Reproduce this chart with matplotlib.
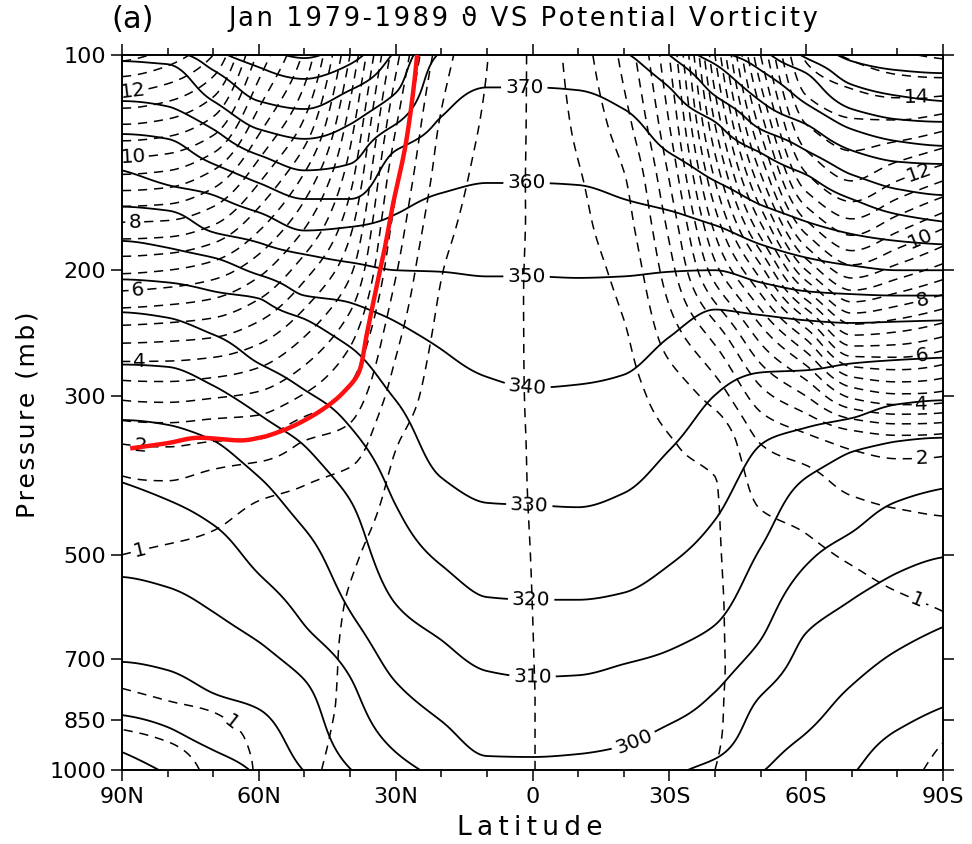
import numpy as np
import matplotlib
matplotlib.use("Agg")
import matplotlib.pyplot as plt

nan = float("nan")

# ---------------- data ----------------
LATS = [90, 80, 70, 60, 50, 40, 30, 20, 10, 0, -10, -20, -30, -40, -50, -60, -70, -80, -90]

# pressure (hPa) of each isentrope (theta, K) at LATS (90N ... 90S)
P_TH240 = [1065, nan, nan, nan, nan, nan, nan, nan, nan, nan, nan, nan, nan, nan, nan, nan, nan, nan, nan]
P_TH250 = [944, 1015, 1090, nan, nan, nan, nan, nan, nan, nan, nan, nan, nan, nan, nan, nan, nan, nan, nan]
P_TH260 = [838, 871, 938, 1030, 1090, nan, nan, nan, nan, nan, nan, nan, nan, nan, nan, nan, nan, 1090, 1060]
P_TH270 = [706, 725, 781, 822, 1005, 1100, nan, nan, nan, nan, nan, nan, nan, nan, 1080, 1040, 1015, 879, 817]
P_TH280 = [537, 555, 601, 662, 748, 995, 1150, nan, nan, nan, nan, nan, nan, 1060, 1010, 888, 761, 680, 631]
P_TH290 = [396, 419, 454, 532, 627, 741, 944, 1040, 1080, 1090, 1090, 1075, 1030, 965, 788, 643, 578, 530, 504]
P_TH300 = [324, 329, 346, 389, 460, 600, 753, 854, 956, 959, 950, 925, 863, 778, 658, 517, 465, 421, 404]
P_TH310 = [271, 273, 290, 318, 352, 419, 586, 658, 727, 741, 737, 711, 680, 627, 489, 390, 359, 347, 343]
P_TH320 = [229, 233, 246, 270, 294, 331, 426, 517, 573, 578, 578, 565, 517, 447, 351, 332, 322, 308, 304]
P_TH330 = [206, 208, 214, 219, 234, 256, 304, 390, 423, 426, 429, 410, 357, 299, 278, 276, 270, 267, 265]
P_TH340 = [182, 186, 192, 203, 217, 222, 236, 258, 282, 292, 289, 280, 248, 227, 231, 235, 237, 236, 235]
P_TH350 = [163, 165, 177, 183, 190, 195, 200, 201, 204, 204, 205, 204, 201, 200, 208, 214, 216, 217, 217]
P_TH360 = [145, 152, 157, 166, 176, 174, 167, 156, 151, 151, 152, 159, 165, 173, 184, 192, 197, 200, 200]
P_TH370 = [129, 131, 142, 151, 159, 159, 136, 122, 111, 111, 112, 119, 137, 150, 162, 171, 178, 182, 184]
P_TH380 = [116, 118, 127, 138, 145, 142, 125, 99, 95, 94, 95, 99, 111, 124, 137, 147, 159, 167, 171]
P_TH390 = [102, 103, 116, 127, 131, 125, 113, 92, 88, 88, 88, 92, 100, 114, 127, 136, 147, 154, 157]
P_TH400 = [93, 98, 105, 116, 119, 112, 98.5, 88, nan, nan, nan, nan, 92, 103, 116, 125, 136, 141, 142]
P_TH410 = [nan, 92, 98, 104, 108, 103, 93, nan, nan, nan, nan, nan, nan, 98, 105, 117, 127, 132, 134]
P_TH420 = [nan, nan, nan, 98, 101, 95, nan, nan, nan, nan, nan, nan, nan, 92, 98, 106, 119, 123, 124]
P_TH430 = [nan, nan, nan, nan, 94, nan, nan, nan, nan, nan, nan, nan, nan, nan, 92, 101, 110, 114, 116]
P_TH440 = [nan, nan, nan, nan, nan, nan, nan, nan, nan, nan, nan, nan, nan, nan, nan, 94, 102, 105, 106]
P_TH450 = [nan, nan, nan, nan, nan, nan, nan, nan, nan, nan, nan, nan, nan, nan, nan, nan, 94, 97, 98]

THETA_VALUES = [240, 250, 260, 270, 280, 290, 300, 310, 320, 330, 340, 350, 360, 370, 380, 390, 400, 410, 420, 430, 440, 450]
THETA_TABLE = [P_TH240, P_TH250, P_TH260, P_TH270, P_TH280, P_TH290, P_TH300, P_TH310, P_TH320, P_TH330, P_TH340,
               P_TH350, P_TH360, P_TH370, P_TH380, P_TH390, P_TH400, P_TH410, P_TH420, P_TH430, P_TH440, P_TH450]

# potential vorticity (PVU, signed) at these pressure levels, one list per latitude
PV_P = [1000, 900, 800, 700, 600, 500, 400, 350, 300, 250, 200, 175, 150, 125, 100]
PV_90N = [1.9, 1.6, 1.1, 0.85, 0.8, 1.0, 1.4, 2.0, 3.1, 4.6, 6.6, 7.8, 9.3, 11.0, 13.2]
PV_80N = [1.8, 1.45, 1.0, 0.8, 0.78, 0.95, 1.45, 2.05, 3.15, 4.55, 6.5, 7.75, 9.2, 10.85, 12.8]
PV_70N = [1.35, 1.2, 0.92, 0.75, 0.75, 0.9, 1.3, 1.95, 3.05, 4.45, 6.25, 7.4, 8.7, 10.3, 12.0]
PV_60N = [0.95, 0.9, 0.75, 0.7, 0.7, 0.8, 1.1, 1.9, 2.9, 4.1, 5.65, 6.55, 7.55, 8.7, 9.9]
PV_50N = [0.56, 0.58, 0.6, 0.62, 0.65, 0.75, 1.0, 1.45, 2.45, 3.45, 4.7, 5.5, 6.35, 7.4, 8.4]
PV_40N = [0.42, 0.44, 0.45, 0.45, 0.47, 0.55, 0.85, 1.25, 1.85, 2.6, 3.6, 4.1, 4.65, 5.25, 6.0]
PV_30N = [0.22, 0.25, 0.25, 0.25, 0.28, 0.33, 0.42, 0.52, 0.8, 1.1, 1.55, 1.8, 2.1, 2.55, 3.2]
PV_20N = [0.16, 0.16, 0.16, 0.17, 0.18, 0.2, 0.24, 0.27, 0.32, 0.4, 0.52, 0.65, 0.8, 0.95, 1.25]
PV_10N = [0.08, 0.08, 0.08, 0.09, 0.1, 0.1, 0.11, 0.12, 0.14, 0.17, 0.22, 0.27, 0.33, 0.42, 0.52]
PV_EQ = [0.005, 0.005, 0.005, 0.003, 0.0, -0.005, -0.015, -0.02, -0.03, -0.04, -0.05, -0.05, -0.06, -0.07, -0.08]
PV_10S = [-0.1, -0.1, -0.1, -0.1, -0.1, -0.12, -0.15, -0.17, -0.2, -0.25, -0.32, -0.38, -0.45, -0.6, -0.75]
PV_20S = [-0.2, -0.2, -0.2, -0.2, -0.22, -0.25, -0.27, -0.3, -0.35, -0.45, -0.65, -0.8, -0.95, -1.3, -1.65]
PV_30S = [-0.32, -0.32, -0.32, -0.33, -0.35, -0.38, -0.45, -0.48, -0.7, -1.2, -1.8, -2.1, -2.5, -3.0, -3.5]
PV_40S = [-0.5, -0.48, -0.47, -0.46, -0.46, -0.47, -0.49, -0.6, -1.2, -2.1, -3.8, -4.6, -5.5, -6.5, -7.5]
PV_50S = [-0.6, -0.6, -0.62, -0.65, -0.7, -0.8, -1.15, -1.5, -2.3, -3.6, -5.8, -7.3, -8.8, -10.2, -11.5]
PV_60S = [-0.7, -0.7, -0.72, -0.75, -0.8, -0.92, -1.3, -1.8, -3.0, -5.0, -8.5, -10.2, -11.8, -13.0, -14.1]
PV_70S = [-0.8, -0.78, -0.78, -0.8, -0.85, -1.05, -1.6, -2.1, -4.1, -6.8, -9.8, -11.2, -12.5, -13.4, -14.6]
PV_80S = [-0.9, -0.85, -0.82, -0.85, -0.93, -1.2, -1.7, -2.25, -4.4, -6.7, -9.3, -10.6, -12.0, -13.4, -14.9]
PV_90S = [-1.1, -0.98, -0.85, -0.9, -1.0, -1.3, -1.7, -2.2, -4.3, -6.4, -8.8, -10.0, -11.5, -13.2, -15.1]
PV_TABLE = [PV_90N, PV_80N, PV_70N, PV_60N, PV_50N, PV_40N, PV_30N, PV_20N, PV_10N, PV_EQ,
            PV_10S, PV_20S, PV_30S, PV_40S, PV_50S, PV_60S, PV_70S, PV_80S, PV_90S]

# hand-drawn red tropopause curve
RED_LAT = [88.2, 80.0, 73.0, 64.2, 59.8, 54.7, 47.3, 41.6, 37.9, 36.4, 34.2, 32.3, 30.7, 27.6, 25.3]
RED_P = [355, 349, 343, 346, 343, 335, 317, 297, 276, 247, 211, 185, 163, 131, 100]

THETA_LABELS = [300, 310, 320, 330, 340, 350, 360, 370]
PV_LABELS = [-14, -12, -10, -8, -6, -4, -2, -1, 1, 2, 4, 6, 8, 10, 12, 14]
Y_TICKS = [100, 200, 300, 500, 700, 850, 1000]
X_TICKS = [90, 60, 30, 0, -30, -60, -90]
X_TICKLABELS = ["90N", "60N", "30N", "0", "30S", "60S", "90S"]

# label anchor positions (lat, hPa) -- layout only
THETA_LABEL_POS = [(-22.8, 932), (0.0, 741), (0.3, 578), (0.7, 426), (1.1, 292), (1.3, 204), (1.3, 151), (1.8, 111)]
PV_LABEL_POS = [(87.6, 112.6), (87.6, 138.9), (87.2, 171.8), (86.5, 213), (86.1, 270), (86.1, 354), (85.7, 504),
                (65.7, 851), (-84.1, 114.8), (-84.1, 141.6), (-84.1, 174.5), (-85.2, 216.6), (-85.2, 258.6),
                (-85.2, 306.7), (-85.2, 360), (-86.3, 542)]


# ---------------- helpers ----------------
def pchip(x, y, xi):
    x = np.asarray(x, float)
    y = np.asarray(y, float)
    xi = np.asarray(xi, float)
    n = len(x)
    h = np.diff(x)
    d = np.diff(y) / h
    m = np.zeros(n)
    if n == 2:
        m[:] = d[0]
    else:
        for k in range(1, n - 1):
            if d[k - 1] * d[k] > 0:
                w1 = 2 * h[k] + h[k - 1]
                w2 = h[k] + 2 * h[k - 1]
                m[k] = (w1 + w2) / (w1 / d[k - 1] + w2 / d[k])

        def end(h0, h1, d0, d1):
            s = ((2 * h0 + h1) * d0 - h0 * d1) / (h0 + h1)
            if np.sign(s) != np.sign(d0):
                s = 0.0
            elif np.sign(d0) != np.sign(d1) and abs(s) > abs(3 * d0):
                s = 3 * d0
            return s

        m[0] = end(h[0], h[1], d[0], d[1])
        m[-1] = end(h[-1], h[-2], d[-1], d[-2])
    idx = np.clip(np.searchsorted(x, xi, side="right") - 1, 0, n - 2)
    t = (xi - x[idx]) / h[idx]
    h00 = 2 * t ** 3 - 3 * t ** 2 + 1
    h10 = t ** 3 - 2 * t ** 2 + t
    h01 = -2 * t ** 3 + 3 * t ** 2
    h11 = t ** 3 - t ** 2
    return h00 * y[idx] + h10 * h[idx] * m[idx] + h01 * y[idx + 1] + h11 * h[idx] * m[idx + 1]


def spaced(s, sep="\u200a"):
    return sep.join(s)


lat_arr = np.array(LATS, float)
order = np.argsort(lat_arr)
lat_sorted = lat_arr[order]

lat_f = np.linspace(-90, 90, 361)
logp_f = np.linspace(2.0, 3.0, 321)
P_F = 10 ** logp_f

# theta field
th_cols = []
tab = np.array(THETA_TABLE, float)
for j in range(len(LATS)):
    pcol = tab[:, j]
    ok = np.isfinite(pcol)
    lp = np.log10(pcol[ok])
    th = np.array(THETA_VALUES, float)[ok]
    s = np.argsort(lp)
    th_cols.append(pchip(lp[s], th[s], logp_f))
th_cols = np.array(th_cols)[order]
TH = np.array([pchip(lat_sorted, th_cols[:, i], lat_f) for i in range(len(logp_f))])

# PV field
lp_pv = np.log10(np.array(PV_P, float))
s = np.argsort(lp_pv)
pv_cols = np.array([pchip(lp_pv[s], np.array(c, float)[s], logp_f) for c in PV_TABLE])[order]
PV = np.array([pchip(lat_sorted, pv_cols[:, i], lat_f) for i in range(len(logp_f))])

# ---------------- plot ----------------
plt.rcParams["font.family"] = ["DejaVu Sans"]
plt.rcParams["lines.dashed_pattern"] = [6.0, 4.5]

fig = plt.figure(figsize=(9.72, 8.44), dpi=100)
ax = fig.add_axes([122 / 972, 1 - 770 / 844, (943 - 122) / 972, (770 - 55) / 844])
ax.set_yscale("log")

th_all = np.arange(250, 460, 10)
th_other = [v for v in th_all if v not in THETA_LABELS]
pv_all = np.round(np.arange(-15.0, 15.01, 0.5), 2)
pv_other = [v for v in pv_all if v not in PV_LABELS]

ax.contour(lat_f, P_F, TH, levels=th_other, colors="black", linewidths=1.3, linestyles="solid")
cs_th = ax.contour(lat_f, P_F, TH, levels=THETA_LABELS, colors="black", linewidths=1.3, linestyles="solid")
ax.contour(lat_f, P_F, PV, levels=pv_other, colors="black", linewidths=1.1, linestyles="dashed")
cs_pv = ax.contour(lat_f, P_F, PV, levels=PV_LABELS, colors="black", linewidths=1.1, linestyles="dashed")

ax.clabel(cs_th, manual=THETA_LABEL_POS, fmt="%d", fontsize=14.5, inline=True, inline_spacing=4)
ax.clabel(cs_pv, manual=PV_LABEL_POS, fmt=lambda v: f"{abs(v):g}", fontsize=14.5, inline=True, inline_spacing=3)

# red curve
t = np.arange(len(RED_LAT))
tt = np.linspace(0, len(RED_LAT) - 1, 300)
red_lat = pchip(t, RED_LAT, tt)
red_p = 10 ** pchip(t, np.log10(RED_P), tt)
ax.plot(red_lat, red_p, color="#ff1010", lw=3.2, solid_capstyle="butt", zorder=5)

ax.set_xlim(90, -90)
ax.set_ylim(1000, 100)
ax.set_yticks(Y_TICKS)
ax.set_yticklabels([str(v) for v in Y_TICKS])
ax.yaxis.set_minor_locator(matplotlib.ticker.NullLocator())
ax.set_xticks(X_TICKS)
ax.set_xticklabels(X_TICKLABELS)
ax.set_xticks(np.arange(-80, 90, 10), minor=True)
ax.tick_params(which="both", direction="out", top=True, right=True, labelsize=16, width=1.1)
ax.tick_params(which="major", length=8)
ax.tick_params(which="minor", length=5)
ax.tick_params(axis="x", pad=4)
for sp in ax.spines.values():
    sp.set_linewidth(1.4)

fig.text(28 / 972, 1 - 415 / 844, spaced("Pressure (mb)"), rotation=90, ha="center", va="center", fontsize=18)
fig.text(530 / 972, 1 - 828 / 844, spaced("Latitude", "\u2009"), ha="center", va="center", fontsize=19)
fig.text(111 / 972, 1 - 20 / 844, "(a)", ha="left", va="center", fontsize=22)
fig.text(523 / 972, 1 - 19 / 844, spaced("Jan 1979-1989 \u03d1 VS Potential Vorticity"), ha="center",
         va="center", fontsize=18.5)

fig.savefig("out.png", dpi=100)
